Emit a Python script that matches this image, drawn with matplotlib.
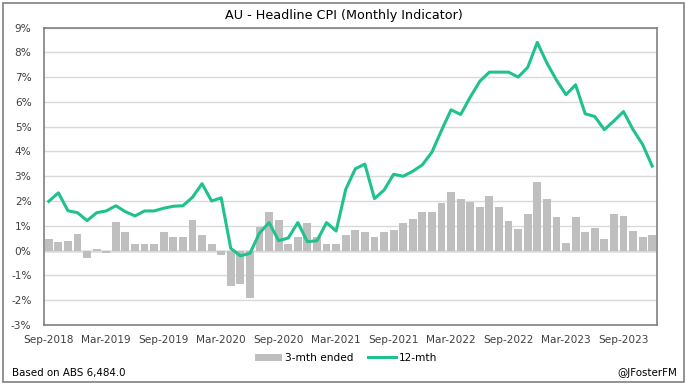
import numpy as np
import pandas as pd
import matplotlib
matplotlib.use('Agg')
import matplotlib.pyplot as plt
from matplotlib.patches import Rectangle

plt.rcParams['font.family'] = ['Liberation Sans Narrow', 'DejaVu Sans']

##### data #####

months = pd.period_range('2018-09', '2023-12', freq='M')

# 3-month ended % change
three_mth = [0.48, 0.36, 0.40, 0.68, -0.31, 0.08, -0.11, 1.16, 0.76, 0.28,
             0.28, 0.28, 0.76, 0.56, 0.56, 1.24, 0.64, 0.28, -0.19, -1.43,
             -1.35, -1.91, 0.97, 1.56, 1.24, 0.28, 0.56, 1.12, 0.56, 0.28,
             0.28, 0.64, 0.84, 0.76, 0.56, 0.76, 0.84, 1.12, 1.28, 1.56,
             1.56, 1.92, 2.36, 2.08, 1.96, 1.76, 2.20, 1.76, 1.20, 0.88,
             1.48, 2.76, 2.08, 1.36, 0.32, 1.36, 0.76, 0.92, 0.48, 1.48,
             1.40, 0.80, 0.56, 0.64]

# 12-month % change
twelve_mth = [1.99, 2.33, 1.61, 1.53, 1.21, 1.53, 1.60, 1.81, 1.57, 1.40,
              1.60, 1.60, 1.71, 1.79, 1.81, 2.15, 2.70, 2.00, 2.13, 0.09,
              -0.21, -0.11, 0.71, 1.13, 0.40, 0.51, 1.13, 0.36, 0.40, 1.13,
              0.79, 2.47, 3.30, 3.49, 2.10, 2.44, 3.08, 3.00, 3.20, 3.46,
              3.97, 4.85, 5.68, 5.49, 6.19, 6.83, 7.20, 7.20, 7.20, 7.00,
              7.39, 8.40, 7.57, 6.88, 6.29, 6.69, 5.52, 5.41, 4.88, 5.23,
              5.61, 4.88, 4.28, 3.41]

tick_labels = [m.strftime('%b-%Y') for m in months]

##### plot #####

fig = plt.figure(figsize=(6.88, 3.85), dpi=100)
ax = fig.add_axes([44 / 688, (385 - 325) / 385, (657 - 44) / 688, (325 - 27.5) / 385])

x = np.arange(len(months))
bars = ax.bar(x, three_mth, width=0.82, color='#bfbfbf', label='3-mth ended', zorder=2)
line, = ax.plot(x, twelve_mth, color='#1fc28e', lw=2.2, label='12-mth', zorder=3)

ax.set_xlim(-0.5, len(months) - 0.5)
ax.set_ylim(-3, 9)
ax.set_yticks(range(-3, 10))
ax.set_yticklabels(['%d%%' % v for v in range(-3, 10)])
ax.set_xticks(x[::6])
ax.set_xticklabels(tick_labels[::6])
ax.tick_params(length=0, labelsize=7.6, colors='#404040', pad=7)
ax.tick_params(axis='y', pad=9)

ax.grid(axis='y', color='#d9d9d9', lw=1, zorder=0)
ax.axhline(0, color='#868686', lw=1, zorder=1)
for s in ax.spines.values():
    s.set_color('#808080')
    s.set_linewidth(1.2)

fig.text(344 / 688, 1 - 15 / 385, 'AU - Headline CPI (Monthly Indicator)',
         fontsize=9.2, ha='center', va='center', color='#000000')

leg = fig.legend([bars, line], ['3-mth ended', '12-mth'], loc='center',
                 bbox_to_anchor=(346 / 688, 1 - 358 / 385), ncol=2,
                 frameon=False, fontsize=7.6, handlelength=2.6,
                 handletextpad=0.3, columnspacing=1.4)

fig.text(12 / 688, 1 - 373 / 385, 'Based on ABS 6,484.0', fontsize=7.4,
         va='center', ha='left', color='#000000')
fig.text(677 / 688, 1 - 373 / 385, '@JFosterFM', fontsize=7.4,
         va='center', ha='right', color='#000000')

# chart border
fig.patches.append(Rectangle((3 / 688, 3 / 385), 681 / 688, 379 / 385,
                             transform=fig.transFigure, fill=False,
                             edgecolor='#808080', lw=1.2))

plt.savefig('out.png', dpi=100)
